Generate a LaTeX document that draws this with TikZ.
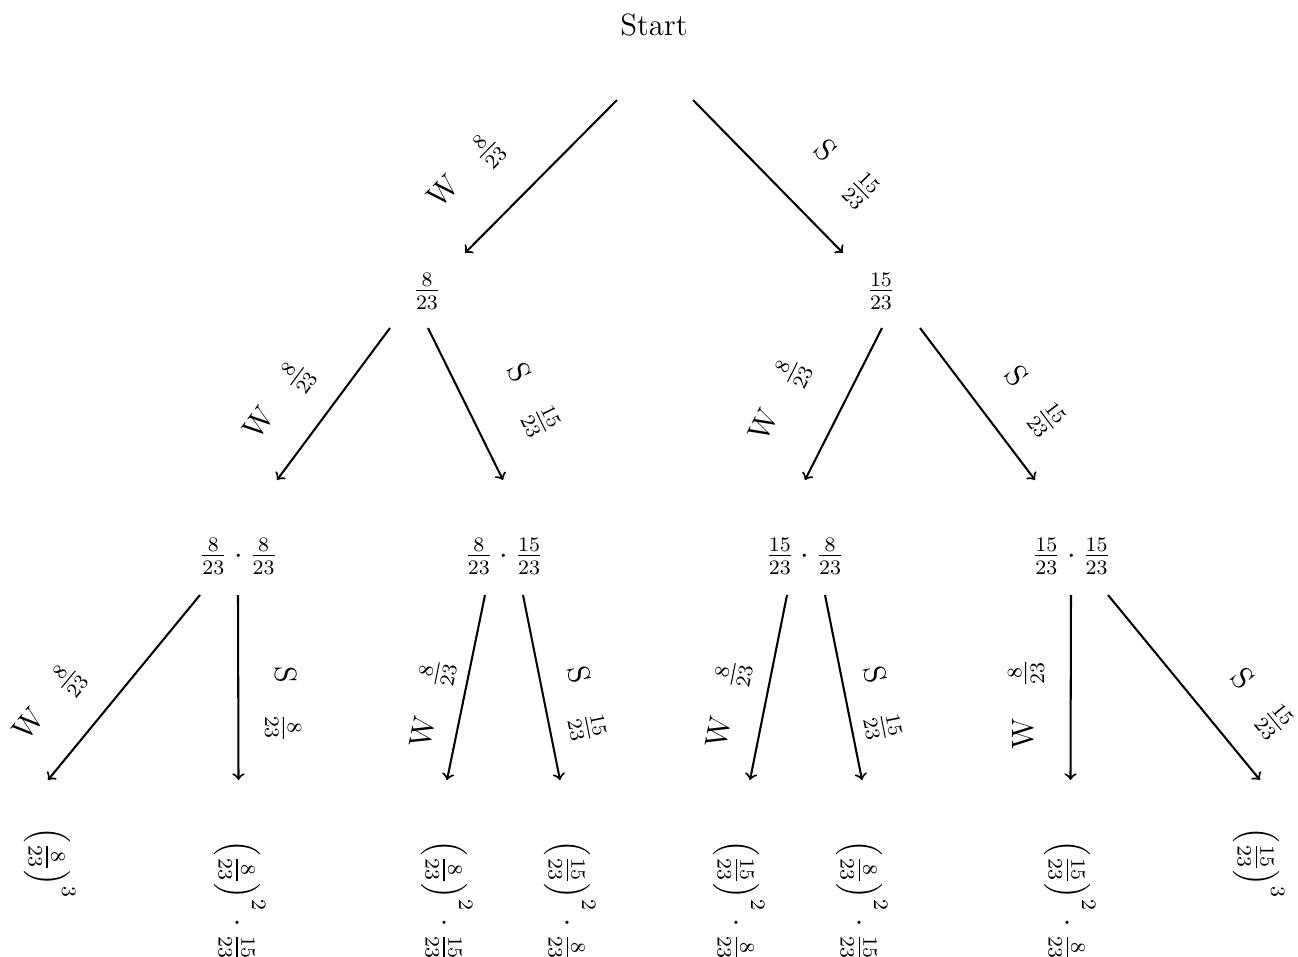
\documentclass[tikz,border=0pt,12pt]{standalone}
\usetikzlibrary{calc}

\begin{document}
\begin{tikzpicture}[x=0.389pt,y=0.389pt,
  lbl/.style={sloped,above},
  leaf/.style={rotate=-90,anchor=base west,inner sep=0pt}]
  \useasboundingbox (0,0) rectangle (1298,-957);
  % root and inner nodes
  \node (start) at (654,-25) {Start};
  \node (w) at (427,-291) {$\frac{8}{23}$};
  \node (s) at (881,-291) {$\frac{15}{23}$};
  \node (ww) at (238.5,-556) {$\frac{8}{23}\cdot\frac{8}{23}$};
  \node (ws) at (504,-556) {$\frac{8}{23}\cdot\frac{15}{23}$};
  \node (sw) at (805,-556) {$\frac{15}{23}\cdot\frac{8}{23}$};
  \node (ss) at (1071.5,-556) {$\frac{15}{23}\cdot\frac{15}{23}$};
  % leaves (turned)
  \node[leaf] (www) at (39.3,-827) {$\left(\frac{8}{23}\right)^3$};
  \node[leaf] (wws) at (229.3,-840) {$\left(\frac{8}{23}\right)^2\cdot\frac{15}{23}$};
  \node[leaf] (wsw) at (436.3,-840) {$\left(\frac{8}{23}\right)^2\cdot\frac{15}{23}$};
  \node[leaf] (wss) at (559.3,-840) {$\left(\frac{15}{23}\right)^2\cdot\frac{8}{23}$};
  \node[leaf] (sww) at (728.3,-840) {$\left(\frac{15}{23}\right)^2\cdot\frac{8}{23}$};
  \node[leaf] (sws) at (851.3,-840) {$\left(\frac{8}{23}\right)^2\cdot\frac{15}{23}$};
  \node[leaf] (ssw) at (1059.3,-840) {$\left(\frac{15}{23}\right)^2\cdot\frac{8}{23}$};
  \node[leaf] (sss) at (1248.3,-827) {$\left(\frac{15}{23}\right)^3$};
  % first draw
  \draw[->,thick] ([shift={(-37,-75)}]start.center) -- node[lbl,pos=.73,above=10.5pt]{W\quad$\frac{8}{23}$} ([shift={(38,38)}]w.center);
  \draw[->,thick] ([shift={(39,-75)}]start.center) -- node[lbl,pos=.74,above=10.5pt]{S\quad$\frac{15}{23}$} ([shift={(-38,38)}]s.center);
  % second draw
  \draw[->,thick] ([shift={(-37,-37)}]w.center) -- node[lbl,pos=.66,above=6.3pt]{W\quad$\frac{8}{23}$} ([shift={(38.5,76)}]ww.center);
  \draw[->,thick] ([shift={(1,-37)}]w.center) -- node[lbl,pos=.65,above=11.8pt]{S\quad$\frac{15}{23}$} ([shift={(-1,76)}]ws.center);
  \draw[->,thick] ([shift={(1,-37)}]s.center) -- node[lbl,pos=.65,above=11.8pt]{W\quad$\frac{8}{23}$} ([shift={(0,76)}]sw.center);
  \draw[->,thick] ([shift={(39,-37)}]s.center) -- node[lbl,pos=.66,above=6.3pt]{S\quad$\frac{15}{23}$} ([shift={(-36.5,76)}]ss.center);
  % third draw
  \draw[->,thick] ([shift={(-38.5,-39)}]ww.center) -- node[lbl,pos=.75,above=7.2pt]{W\quad$\frac{8}{23}$} ([shift={(8.7,47)}]www.base west);
  \draw[->,thick] ([shift={(-0.5,-39)}]ww.center) -- node[lbl,pos=.59,above=6pt]{S\quad$\frac{8}{23}$} ([shift={(9.2,60)}]wws.base west);
  \draw[->,thick] ([shift={(-19,-39)}]ws.center) -- node[lbl,pos=.62,above=0.6pt]{W\quad$\frac{8}{23}$} ([shift={(10.7,60)}]wsw.base west);
  \draw[->,thick] ([shift={(19,-39)}]ws.center) -- node[lbl,pos=.63,above=3pt]{S\quad$\frac{15}{23}$} ([shift={(0.7,60)}]wss.base west);
  \draw[->,thick] ([shift={(-18,-39)}]sw.center) -- node[lbl,pos=.63,above=3pt]{W\quad$\frac{8}{23}$} ([shift={(21.7,60)}]sww.base west);
  \draw[->,thick] ([shift={(20,-39)}]sw.center) -- node[lbl,pos=.62,above=0.6pt]{S\quad$\frac{15}{23}$} ([shift={(10.7,60)}]sws.base west);
  \draw[->,thick] ([shift={(-0.5,-39)}]ss.center) -- node[lbl,pos=.59,above=6pt]{W\quad$\frac{8}{23}$} ([shift={(11.2,60)}]ssw.base west);
  \draw[->,thick] ([shift={(36.5,-39)}]ss.center) -- node[lbl,pos=.75,above=7.2pt]{S\quad$\frac{15}{23}$} ([shift={(11.7,47)}]sss.base west);
\end{tikzpicture}
\end{document}
